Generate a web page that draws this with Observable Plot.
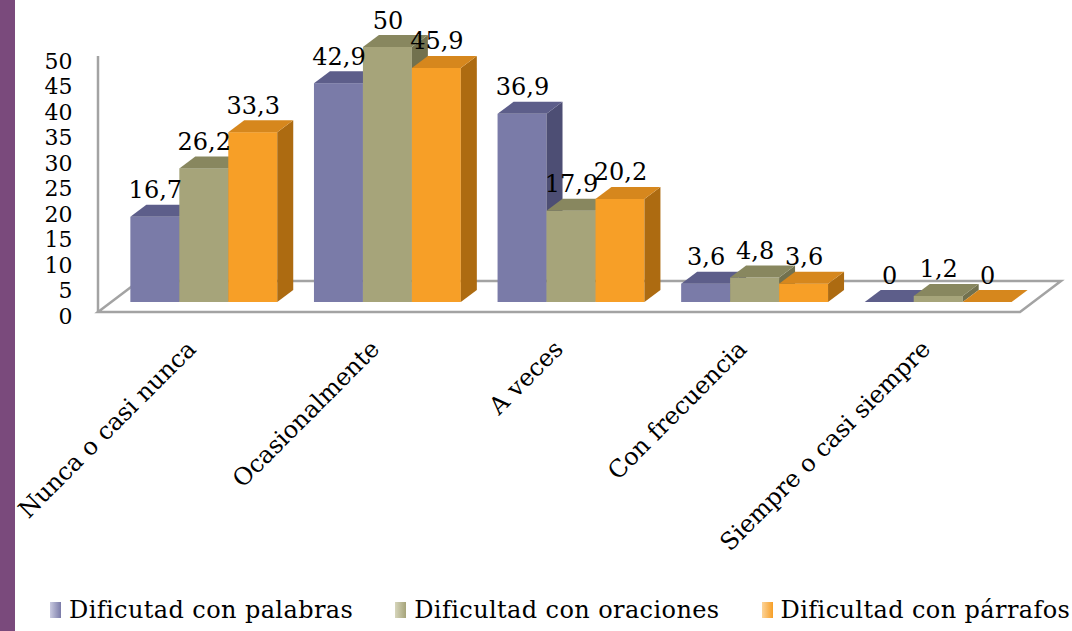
<!DOCTYPE html>
<html><head><meta charset="utf-8">
<script src="https://cdn.jsdelivr.net/npm/d3@7"></script>
<script src="https://cdn.jsdelivr.net/npm/@observablehq/plot@0.6"></script>
<style>
html,body{margin:0;padding:0;background:#fff;width:1072px;height:631px;overflow:hidden;}
#wrap{position:relative;width:1072px;height:631px;}
#chart{position:absolute;left:0;top:0;}
#stripe{position:absolute;left:0;top:0;width:15px;height:631px;background:#7a4a7c;}
#legend{position:absolute;left:50px;top:596px;display:flex;align-items:center;gap:42px;font-family:"DejaVu Serif";font-size:24px;letter-spacing:0.4px;color:#000;white-space:nowrap;}
.item{display:flex;align-items:center;}
.sw{width:11px;height:16px;margin-right:8px;}
g[aria-label="categories"] text{letter-spacing:0.8px;}
</style></head><body><div id="wrap"><div id="chart"></div><div id="stripe"></div><div id="legend"></div></div>
<script>
const categories = ["Nunca o casi nunca", "Ocasionalmente", "A veces", "Con frecuencia", "Siempre o casi siempre"];
const seriesNames = ["Dificutad con palabras", "Dificultad con oraciones", "Dificultad con párrafos"];
const palabras = [16.7, 42.9, 36.9, 3.6, 0];
const oraciones = [26.2, 50, 17.9, 4.8, 1.2];
const parrafos = [33.3, 45.9, 20.2, 3.6, 0];
const yTicks = [0, 5, 10, 15, 20, 25, 30, 35, 40, 45, 50];

const frontColors = ["#7a7ba8", "#a6a47a", "#f79f27"];
const topColors = ["#5d5e8a", "#88875f", "#d6871d"];
const sideColors = ["#4d4e74", "#72714e", "#ad6b11"];
const swatchLight = ["#c9cae0", "#d6d5bb", "#fcd49a"];

const seriesValues = [palabras, oraciones, parrafos];
const rows = seriesValues.map((vals, s) => categories.map((c, i) => ({cat: c, series: seriesNames[s], value: vals[i]})));

const W = 1072, H = 592, mL = 112, mR = 42, mT = 47, mB = 290;
const padIn = 0.2, padOut = 0.1;
const step = (W - mL - mR) / (categories.length - padIn + 2 * padOut);
const bw = step * (1 - padIn);
const sw = bw / 3;
const DX = 16, DY = -12;
const font = "DejaVu Serif";
const fmt = v => String(v).replace(".", ",");

function cube(s) {
  return function(index, scales, values, dimensions, context, next) {
    const g = next(index, scales, values, dimensions, context);
    const ns = "http://www.w3.org/2000/svg";
    for (const r of Array.from(g.querySelectorAll("rect"))) {
      const x = +r.getAttribute("x"), y = +r.getAttribute("y");
      const w = +r.getAttribute("width"), h = +(r.getAttribute("height") || 0);
      const side = document.createElementNS(ns, "polygon");
      side.setAttribute("points", [[x + w, y], [x + w + DX, y + DY], [x + w + DX, y + h + DY], [x + w, y + h]].map(p => p.join(",")).join(" "));
      side.setAttribute("fill", sideColors[s]);
      const top = document.createElementNS(ns, "polygon");
      top.setAttribute("points", [[x, y], [x + DX, y + DY], [x + w + DX, y + DY], [x + w, y]].map(p => p.join(",")).join(" "));
      top.setAttribute("fill", topColors[s]);
      r.after(side);
      side.after(top);
    }
    return g;
  };
}

function floor(index, scales, values, dimensions) {
  const y0 = scales.y(0);
  const L = dimensions.marginLeft - 14;
  const R = dimensions.width - dimensions.marginRight - 10;
  const yf = y0 + 10, yb = y0 - 21, off = 41;
  const g = d3.create("svg:g");
  g.append("polygon")
    .attr("points", [[L, yf], [R, yf], [R + off, yb], [L + off, yb]].map(p => p.join(",")).join(" "))
    .attr("fill", "#fff").attr("stroke", "#a3a3a3").attr("stroke-width", 2.5).attr("stroke-linejoin", "miter");
  g.append("line").attr("x1", L).attr("x2", L).attr("y1", scales.y(50) + 9).attr("y2", yf)
    .attr("stroke", "#a3a3a3").attr("stroke-width", 2.5);
  return g.node();
}

const marks = [floor];
rows.forEach((data, s) => {
  marks.push(Plot.barY(data, {
    x: "cat", y: "value", fill: frontColors[s],
    insetLeft: s * sw, insetRight: (2 - s) * sw,
    render: cube(s)
  }));
});
rows.forEach((data, s) => {
  marks.push(Plot.text(data, {
    x: "cat", y: "value", text: d => fmt(d.value),
    dx: (s - 1) * sw, dy: -19, lineAnchor: "bottom",
    fontSize: 24, fontFamily: font, fill: "#000"
  }));
});
marks.push(Plot.text(categories, {
  x: d => d, frameAnchor: "bottom", text: d => d,
  rotate: -45, textAnchor: "end", lineAnchor: "bottom", dx: -7, dy: 48,
  fontSize: 24, fontFamily: font, fill: "#000", ariaLabel: "categories"
}));
marks.push(Plot.axisY(yTicks, {
  tickSize: 0, tickPadding: 40, dy: 14, fontSize: 22, fontFamily: font, label: null
}));

const chart = Plot.plot({
  width: W, height: H,
  marginLeft: mL, marginRight: mR, marginTop: mT, marginBottom: mB,
  style: {fontFamily: font, fontSize: "22px", color: "#000", background: "#fff", overflow: "visible"},
  x: {type: "band", domain: categories, paddingInner: padIn, paddingOuter: padOut, round: false, axis: null},
  y: {domain: [0, 50], axis: null, label: null},
  marks
});
document.getElementById("chart").appendChild(chart);

const legend = document.getElementById("legend");
seriesNames.forEach((n, s) => {
  const it = document.createElement("div");
  it.className = "item";
  const b = document.createElement("div");
  b.className = "sw";
  b.style.background = `linear-gradient(to right, ${swatchLight[s]}, ${frontColors[s]})`;
  const t = document.createElement("span");
  t.textContent = n;
  it.appendChild(b); it.appendChild(t);
  legend.appendChild(it);
});
</script></body></html>
